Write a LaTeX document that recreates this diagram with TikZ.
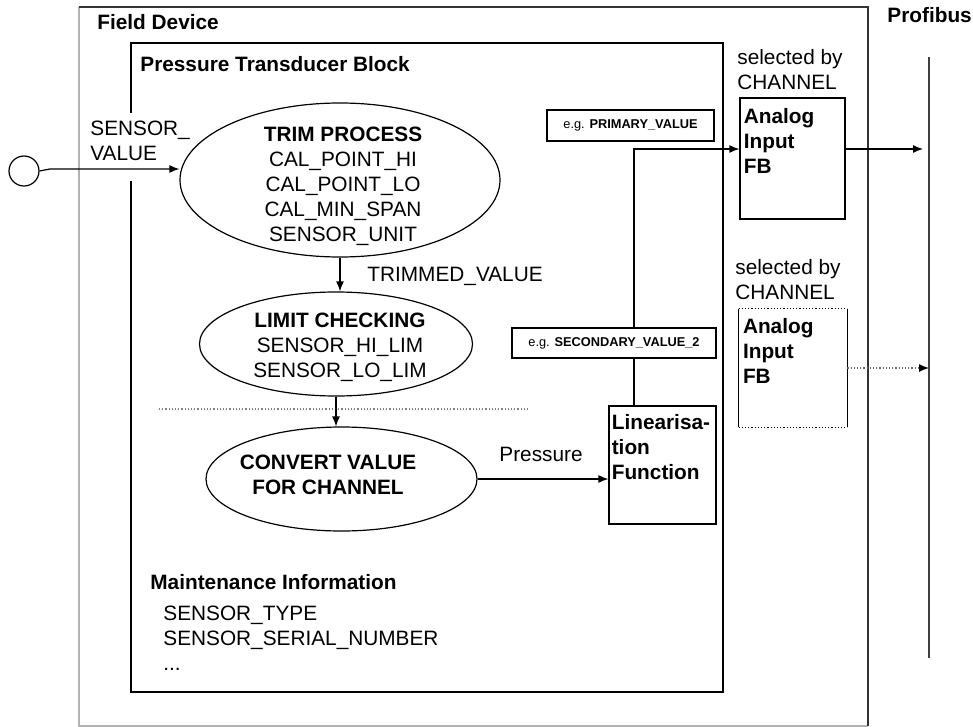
\documentclass[tikz,border=0pt]{standalone}
\usepackage{fontspec}
\setmainfont{Liberation Sans}
\usetikzlibrary{shapes.geometric,arrows.meta,positioning}

\tikzset{
  txt/.style={inner sep=0pt, font=\fontsize{10.4pt}{12.5pt}\selectfont, align=left},
  btxt/.style={txt, font=\fontsize{10.4pt}{12.5pt}\selectfont\bfseries},
  proc/.style={ellipse, draw, line width=0.6pt, inner sep=0pt},
  fb/.style={rectangle, draw, line width=0.6pt, inner sep=0pt},
  tag/.style={rectangle, draw, fill=white, line width=0.6pt, inner sep=0pt,
    font=\fontsize{6.4pt}{7pt}\selectfont},
  sig/.style={->, line width=0.6pt},
}

\begin{document}
\begin{tikzpicture}[x=0.5pt, y=-0.5pt, >={Latex[length=5pt,width=4pt]}]
  \useasboundingbox (0,0) rectangle (973,727);

  \draw[gray!60, line width=0.6pt] (79,7) -- (79,726) -- (868,726);
  \draw[black!80, line width=0.8pt] (79,7) -- (868,7) -- (868,726);
  \draw[line width=0.6pt] (131,113) -- (131,43) -- (723,43) -- (723,692) -- (131,692) -- (131,181);

  \node[btxt, anchor=west] (fdev) at (97,22) {Field Device};
  \node[btxt, anchor=west] (ptb) at (140,64) {Pressure Transducer Block};
  \node[btxt, anchor=west] (pbus) at (887,15) {Profibus};

  \coordinate (bustop) at (929,57);
  \coordinate (busbot) at (929,658);
  \draw[black!75, line width=0.8pt] (bustop) -- (busbot);

  \node[circle, draw, line width=0.6pt, minimum size=15pt, inner sep=0pt] (sensor) at (24,171) {};
  \node[txt, anchor=west] (sensorlbl) at (90,141) {SENSOR\_\\VALUE};

  \node[proc, minimum width=160pt, minimum height=77pt] (trim) at (340,180) {};
  \node[txt, align=center] (trimtxt) at (343,186) {\textbf{TRIM PROCESS}\\CAL\_POINT\_HI\\CAL\_POINT\_LO\\CAL\_MIN\_SPAN\\SENSOR\_UNIT};

  \node[proc, minimum width=136.5pt, minimum height=52pt] (limit) at (336,344) {};
  \node[txt, align=center] (limittxt) at (340,347) {\textbf{LIMIT CHECKING}\\SENSOR\_HI\_LIM\\SENSOR\_LO\_LIM};

  \node[proc, minimum width=135.5pt, minimum height=52pt] (convert) at (341.5,479) {};
  \node[btxt, align=center] (converttxt) at (328,475) {CONVERT VALUE\\FOR CHANNEL};

  \node[txt, anchor=west] (trimmed) at (367,276) {TRIMMED\_VALUE};
  \node[txt] (pressure) at (541,454) {Pressure};
  \draw[gray, densely dotted, line width=0.6pt] (159,409) -- (528,409);

  \node[fb, minimum width=53.5pt, minimum height=59pt] (lin) at (662.5,465) {};
  \node[btxt, below right=4.5pt and 1.5pt of lin.north west] (lintxt) {Linearisa-\\tion\\Function};

  \node[txt, anchor=west] (sel1) at (737,70) {selected by\\CHANNEL};
  \node[fb, minimum width=52.5pt, minimum height=60.5pt] (ai1) at (792.5,158.5) {};
  \node[btxt, below right=5.5pt and 2pt of ai1.north west] (ai1txt) {Analog\\Input\\FB};

  \node[txt, anchor=west] (sel2) at (735,280) {selected by\\CHANNEL};
  \node[inner sep=0pt, minimum width=54pt, minimum height=59pt] (ai2) at (793,368) {};
  \draw[line width=0.6pt] (ai2.north west) -- (ai2.south west) (ai2.north east) -- (ai2.south east);
  \draw[line width=0.6pt, densely dotted] (ai2.north west) -- (ai2.north east) (ai2.south west) -- (ai2.south east);
  \node[btxt, below right=4.5pt and 2pt of ai2.north west] (ai2txt) {Analog\\Input\\FB};

  \coordinate (inp) at (50,169);
  \coordinate (up) at (634,149);
  \draw[sig] (sensor.east) -- (inp) -- (inp -| trim.west);
  \draw[sig] (trim.south) -- (trim.south |- limit.north);
  \draw[sig] (limit.south) -- (limit.south |- convert.north);
  \draw[sig] (convert.east) -- (convert.east -| lin.west);
  \draw[sig] (lin.north -| up) -- (up) -- (up -| ai1.west);
  \draw[sig, shorten >=3pt] (up -| ai1.east) -- (up -| bustop);
  \draw[-{Latex[length=5pt,width=4pt,color=black]}, black!60, densely dotted, line width=0.6pt] (ai2.east) -- (ai2.east -| bustop);

  \node[tag, minimum width=83.5pt, minimum height=15.5pt] (prim) at (630.5,125.5) {e.g. \textbf{PRIMARY\_VALUE}};
  \node[tag, minimum width=102pt, minimum height=15pt] (sec) at (614,343) {e.g. \textbf{SECONDARY\_VALUE\_2}};

  \node[btxt, anchor=west] (maint) at (150,582) {Maintenance Information};
  \node[txt, anchor=north west] (mlist) at (163,605.5) {SENSOR\_TYPE\\SENSOR\_SERIAL\_NUMBER\\...};
\end{tikzpicture}
\end{document}
